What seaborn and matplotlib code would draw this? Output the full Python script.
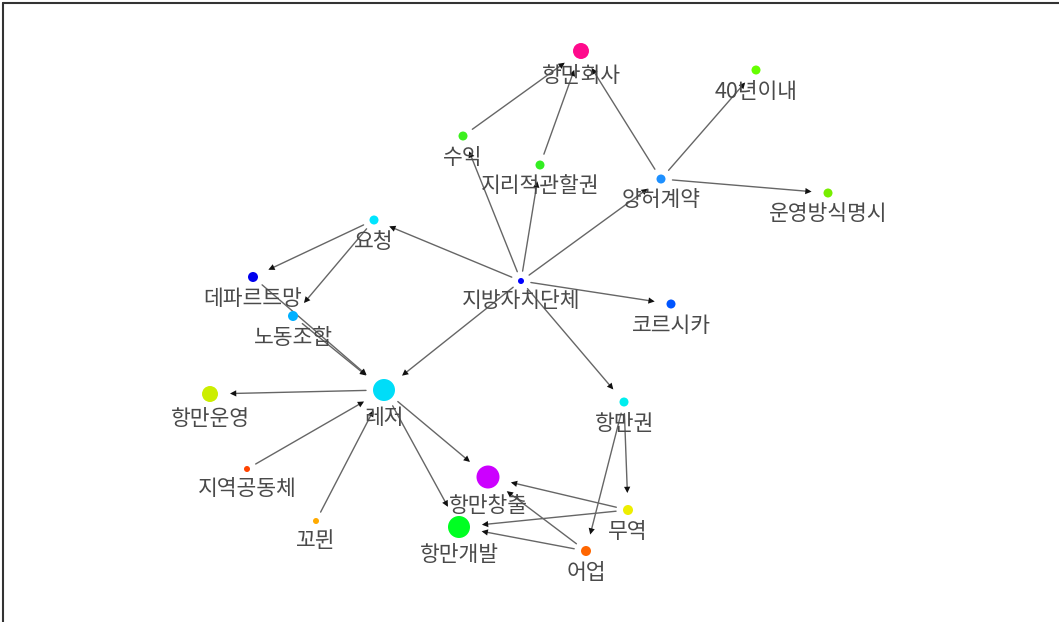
import matplotlib
matplotlib.use("Agg")
import matplotlib.pyplot as plt
from matplotlib.lines import Line2D
import seaborn as sns
import pandas as pd

# ---- data -------------------------------------------------------------
nodes = ["항만회사", "40년이내", "수익", "지리적관할권", "양허계약", "운영방식명시",
         "요청", "지방자치단체", "데파르트망", "코르시카", "노동조합", "레저",
         "항만운영", "항만권", "지역공동체", "항만창출", "무역", "꼬뮌",
         "항만개발", "어업"]
node_x = [581, 756, 463, 540, 661, 828, 374, 521, 253, 671, 293, 384,
          210, 624, 247, 488, 628, 316, 459, 586]
node_y = [51, 70, 136, 165, 179, 193, 220, 281, 277, 304, 316, 390,
          394, 402, 469, 477, 510, 521, 527, 551]
node_radius = [8, 4.5, 4.5, 4.5, 4.5, 4.5, 4.5, 3, 5, 4.5, 5, 11,
               8, 4.5, 3, 11.5, 5, 3, 11, 5]
node_colors = ["#FF0A8C", "#66FF00", "#3CF01E", "#33EE22", "#1E90FF", "#77EE00",
               "#00E5FF", "#0000FF", "#0000EE", "#0055FF", "#00B0FF", "#00DDF8",
               "#CCEE00", "#00EEEE", "#FF4400", "#CC00FF", "#EEEE00", "#FFAA00",
               "#00FF22", "#FF6600"]

edge_source = ["수익", "지리적관할권", "양허계약", "양허계약", "양허계약",
               "지방자치단체", "지방자치단체", "지방자치단체", "지방자치단체",
               "지방자치단체", "지방자치단체", "지방자치단체",
               "요청", "요청", "데파르트망", "노동조합", "레저", "지역공동체",
               "꼬뮌", "레저", "레저", "항만권", "항만권", "무역", "무역",
               "어업", "어업"]
edge_target = ["항만회사", "항만회사", "항만회사", "40년이내", "운영방식명시",
               "수익", "지리적관할권", "양허계약", "요청",
               "코르시카", "레저", "항만권",
               "데파르트망", "노동조합", "레저", "레저", "항만운영", "레저",
               "레저", "항만창출", "항만개발", "무역", "어업", "항만창출", "항만개발",
               "항만창출", "항만개발"]

# ---- figure -----------------------------------------------------------
sns.set_style("white")
plt.rcParams["font.family"] = ["Noto Sans CJK KR", "DejaVu Sans"]

W, H = 1059, 622
fig = plt.figure(figsize=(W / 100, H / 100), dpi=100)
ax = fig.add_axes([0, 0, 1, 1])

df = pd.DataFrame({"node": nodes, "x": node_x, "y": node_y, "r": node_radius})
pos = {n: (x, y) for n, x, y in zip(nodes, node_x, node_y)}
rad = dict(zip(nodes, node_radius))

PX2PT = 0.72
# edges: grey line, small black head
for s, t in zip(edge_source, edge_target):
    ax.annotate("", xy=pos[t], xytext=pos[s],
                arrowprops=dict(arrowstyle="-", color="#666666", lw=1.0,
                                shrinkA=(rad[s] + 7) * PX2PT,
                                shrinkB=(rad[t] + 14) * PX2PT),
                zorder=1)
    ax.annotate("", xy=pos[t], xytext=pos[s],
                arrowprops=dict(arrowstyle="-|>,head_length=0.5,head_width=0.25",
                                color="#111111", lw=0.0,
                                shrinkA=(rad[s] + 7) * PX2PT,
                                shrinkB=(rad[t] + 12) * PX2PT,
                                mutation_scale=9),
                zorder=2)

palette = dict(zip(nodes, node_colors))
sizes = {n: (2 * r * PX2PT) ** 2 for n, r in zip(nodes, node_radius)}
sns.scatterplot(data=df, x="x", y="y", hue="node", palette=palette,
                size="node", sizes=sizes, legend=False, linewidth=0,
                ax=ax, zorder=3)
ax.set_xlim(0, W)
ax.set_ylim(H, 0)
ax.axis("off")

for n, x, y, r in zip(nodes, node_x, node_y, node_radius):
    ax.text(x, y + r + 17, n, ha="center", va="center", fontsize=15.5,
            color="#4a4a4a", zorder=4)

# frame (top and left edges)
fig.add_artist(Line2D([3 / W, 1], [1 - 3 / H, 1 - 3 / H],
                      transform=fig.transFigure, color="#333333", lw=1.5))
fig.add_artist(Line2D([3 / W, 3 / W], [0, 1 - 3 / H],
                      transform=fig.transFigure, color="#333333", lw=1.5))

fig.savefig("out.png", dpi=100)
